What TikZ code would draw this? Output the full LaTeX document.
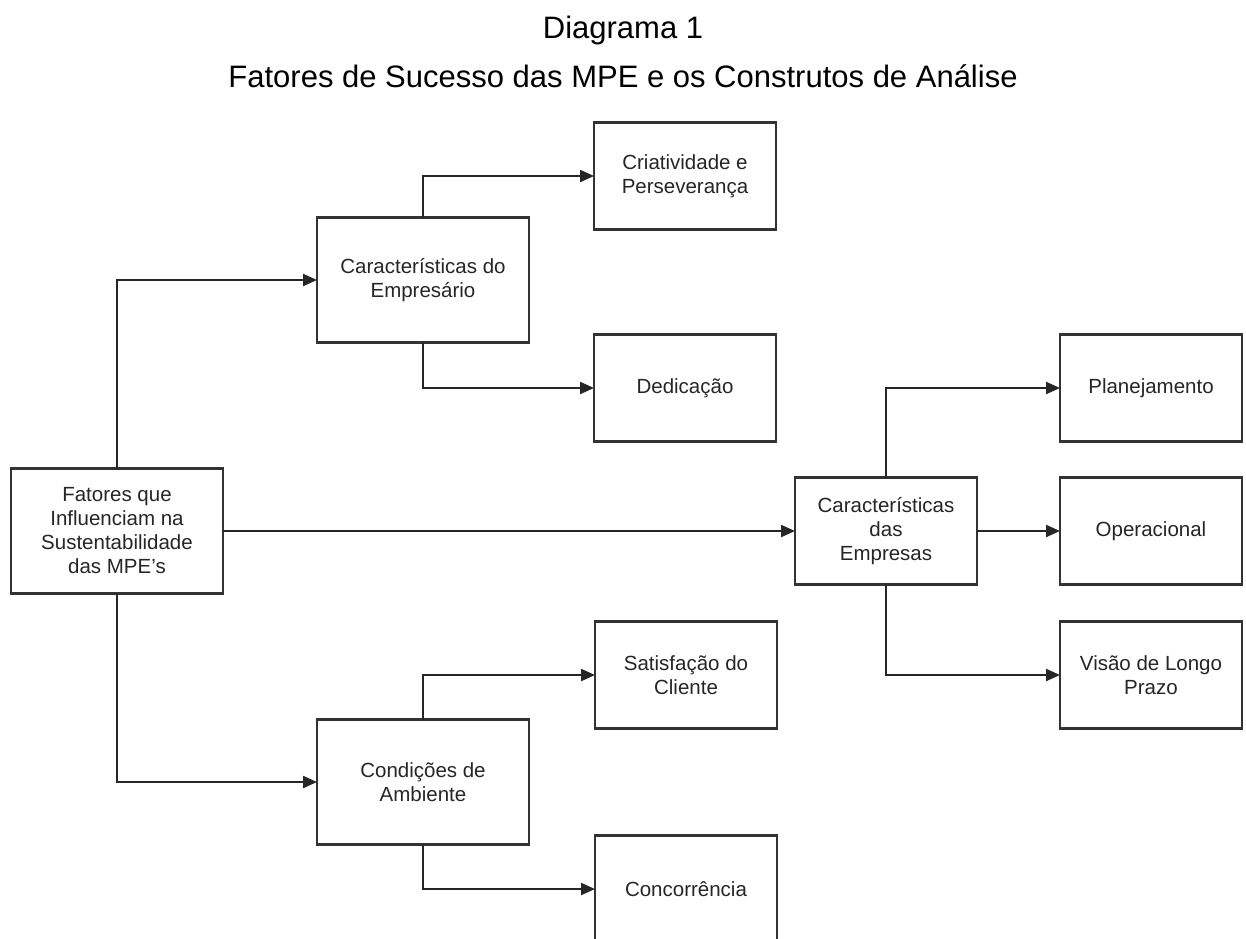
\documentclass[tikz,border=0pt]{standalone}
\usepackage{fontspec}
\setmainfont{Liberation Sans}
\usetikzlibrary{positioning, arrows.meta}

\begin{document}
\begin{tikzpicture}[
    x=1pt, y=-1pt,
    node distance=36pt,
    bigbox/.style={rectangle, draw=black!80, line width=2.2pt, fill=white, align=center, text=black!85, font=\fontsize{20.5}{24}\selectfont, minimum width=212pt, minimum height=125pt, inner sep=0pt, outer sep=0pt},
    leafbox/.style={bigbox, minimum width=182pt, minimum height=107pt},
    arrow/.style={-{Triangle[length=14pt, width=12pt]}, line width=2.2pt, draw=black!85},
    heading/.style={font=\fontsize{31}{36}\selectfont, anchor=base}
]
\useasboundingbox (0,0) rectangle (1246,938);

\node[heading] (titulo) at (623,38) {Diagrama 1};
\node[heading] (subtitulo) at (623,87) {Fatores de Sucesso das MPE e os Construtos de Análise};

\node[bigbox] (fatores) at (117,531) {Fatores que\\Influenciam na\\Sustentabilidade\\das MPE’s};
\node[bigbox, above right=126pt and 94pt of fatores] (empresario) {Características do\\Empresário};
\node[bigbox, below right=126pt and 94pt of fatores] (condicoes) {Condições de\\Ambiente};
\node[leafbox, right=572pt of fatores] (empresas) {Características\\das\\Empresas};

\node[leafbox, right=83pt of empresas] (operacional) {Operacional};
\node[leafbox, above=36pt of operacional] (planejamento) {Planejamento};
\node[leafbox, below=37pt of operacional] (visao) {Visão de Longo\\Prazo};

\node[leafbox, left=284pt of planejamento] (dedicacao) {Dedicação};
\node[leafbox, above=105pt of dedicacao] (criatividade) {Criatividade e\\Perseverança};
\node[leafbox, left=283pt of visao] (satisfacao) {Satisfação do\\Cliente};
\node[leafbox, below=107pt of satisfacao] (concorrencia) {Concorrência};

\draw[arrow] (fatores.north) |- (empresario.west);
\draw[arrow] (fatores.south) |- (condicoes.west);
\draw[arrow] (fatores.east) -- (empresas.west);
\draw[arrow] (empresario.north) |- (criatividade.west);
\draw[arrow] (empresario.south) |- (dedicacao.west);
\draw[arrow] (condicoes.north) |- (satisfacao.west);
\draw[arrow] (condicoes.south) |- (concorrencia.west);
\draw[arrow] (empresas.north) |- (planejamento.west);
\draw[arrow] (empresas.east) -- (operacional.west);
\draw[arrow] (empresas.south) |- (visao.west);

\end{tikzpicture}
\end{document}
